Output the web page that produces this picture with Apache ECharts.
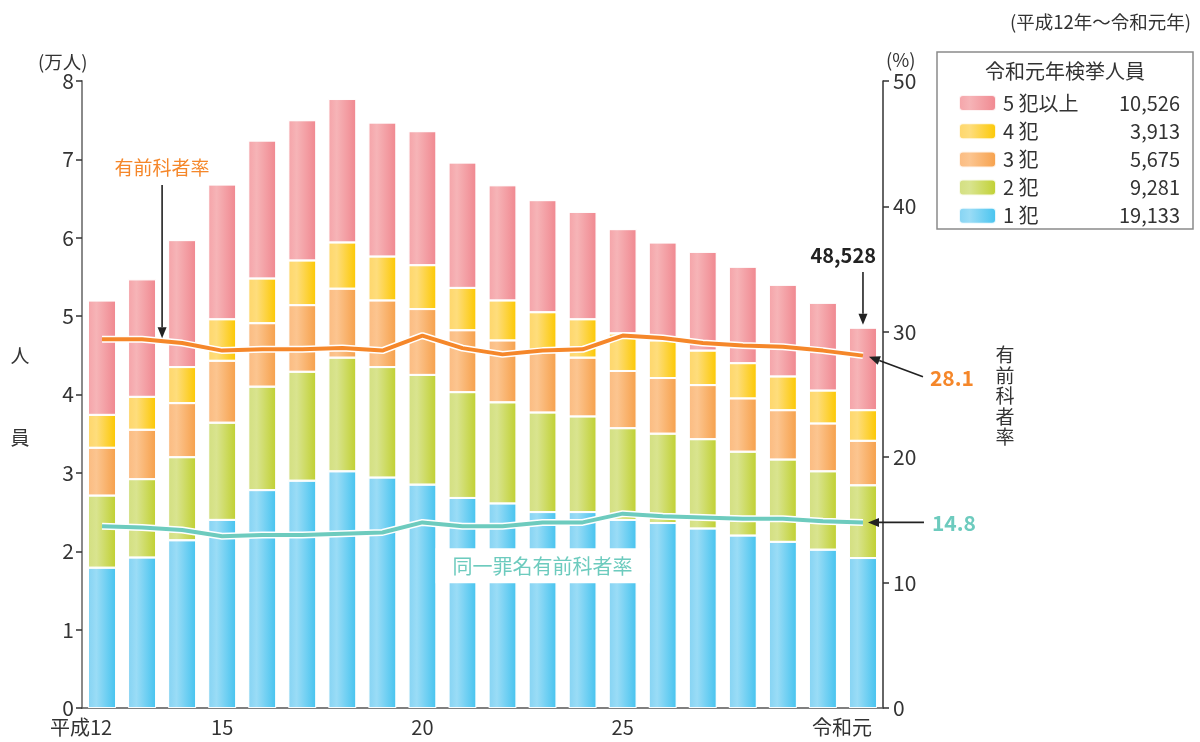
<!DOCTYPE html>
<html><head><meta charset="utf-8">
<script src="https://cdn.jsdelivr.net/npm/echarts@6/dist/echarts.min.js"></script>
<style>html,body{margin:0;padding:0;background:#fff}#c{width:1200px;height:742px}</style>
</head><body><div id="c"></div>
<script>
const categories = ['平成12','13','14','15','16','17','18','19','20','21','22','23','24','25','26','27','28','29','30','令和元'];
const shownTicks = [0,3,8,13,19];
const leftTicks = [0,1,2,3,4,5,6,7,8];
const seriesNames = ['1犯','2犯','3犯','4犯','5犯以上'];
const one   = [17900,19200,21400,24000,27800,29000,30200,29400,28500,26800,26100,25000,25000,24000,23600,22900,22000,21200,20200,19133];
const two   = [9200,10000,10600,12400,13200,13900,14500,14100,14000,13500,12900,12700,12200,11700,11400,11400,10700,10500,10000,9281];
const three = [6100,6300,6900,7900,8100,8500,8800,8500,8400,7900,7900,7700,7500,7300,7100,6900,6800,6300,6100,5675];
const four  = [4200,4200,4600,5300,5700,5700,5900,5600,5600,5400,5100,5100,4900,4800,4800,4400,4500,4300,4200,3913];
const fiveUp= [14600,15000,16200,17200,17600,17900,18300,17100,17100,16000,14700,14300,13700,13300,12500,12600,12300,11700,11200,10526];
const priorRate = [29.4,29.4,29.1,28.5,28.6,28.6,28.7,28.5,29.7,28.7,28.2,28.5,28.6,29.7,29.5,29.1,28.9,28.8,28.5,28.1];
const sameRate  = [14.5,14.4,14.2,13.7,13.8,13.8,13.9,14.0,14.8,14.5,14.5,14.8,14.8,15.5,15.3,15.2,15.1,15.1,14.9,14.8];

const FONT = '"Noto Sans CJK JP", "Noto Sans", sans-serif';
const G = (a,b,c) => new echarts.graphic.LinearGradient(0,0,1,0,[{offset:0,color:a},{offset:0.3,color:b},{offset:1,color:c}]);
const colors = [
  G('#84d3f3','#9adcf6','#45c3ef'),
  G('#d3df80','#d9e48f','#c0d030'),
  G('#fbbb80','#fcc590','#f6a04a'),
  G('#fed66a','#fedd7c','#fcc800'),
  G('#f5a3a8','#f6b4b7','#f0878f')
];
const values = [one,two,three,four,fiveUp];
const fmt = n => n.toLocaleString('en-US');
const r1 = {}; seriesNames.forEach((n,i)=>{ r1[n] = values[i][values[i].length-1]; });
const total = one.map((v,i)=>v+two[i]+three[i]+four[i]+fiveUp[i]);

const chart = echarts.init(document.getElementById('c'));
const barSeries = seriesNames.map((n,i)=>({
  name:n, type:'bar', stack:'t', barWidth:'70%', data:values[i],
  itemStyle:{color:colors[i], borderColor:'rgba(255,255,255,0.85)', borderWidth:1},
  emphasis:{disabled:true}, z:2
}));
function lineS(data,color,w,z){return {type:'line',yAxisIndex:1,data,symbol:'none',lineStyle:{color,width:w},z,emphasis:{disabled:true},silent:true};}

chart.setOption({
  animation:false,
  textStyle:{fontFamily:FONT},
  grid:{left:82,right:317,top:81,bottom:34},
  legend:{
    data:['5犯以上','4犯','3犯','2犯','1犯'],
    orient:'vertical', left:953, top:88, itemWidth:37, itemHeight:16, itemGap:8.2,
    selectedMode:false,
    formatter: n => `{n|${n.charAt(0)} ${n.slice(1)}}{v|${fmt(r1[n])}}`,
    textStyle:{fontFamily:FONT, color:'#333', lineHeight:20, rich:{
      n:{width:100, fontSize:20, lineHeight:20, color:'#333', fontFamily:FONT, padding:[0,0,0,2]},
      v:{width:77, align:'right', fontSize:20, lineHeight:20, color:'#333', fontFamily:FONT}
    }}
  },
  xAxis:{type:'category', data:categories,
    axisLine:{lineStyle:{color:'#555',width:1.5}}, axisTick:{show:false},
    axisLabel:{interval:(i)=>shownTicks.includes(i), margin:9, color:'#333', fontSize:20,
      formatter:(v,i)=> (i===0||i===19)? `{w|${v}}` : v,
      rich:{w:{fontSize:20,color:'#333',padding:[0,42,0,0],fontFamily:FONT}}}
  },
  yAxis:[
    {type:'value', min:0, max:80000, interval:10000, position:'left',
      axisLine:{show:true, lineStyle:{color:'#8a8a8a',width:2}},
      axisTick:{show:true, length:6, lineStyle:{color:'#333',width:1.5}},
      axisLabel:{formatter:v=>v/10000, color:'#333', fontSize:21, margin:8},
      splitLine:{show:false}},
    {type:'value', min:0, max:50, interval:10, position:'right',
      axisLine:{show:true, lineStyle:{color:'#333',width:1.5}},
      axisTick:{show:true, length:6, lineStyle:{color:'#333',width:1.5}},
      axisLabel:{color:'#333', fontSize:21, margin:10},
      splitLine:{show:false}}
  ],
  series:[
    ...barSeries,
    lineS(priorRate,'#ffffff',7,5), lineS(priorRate,'#f5872a',4,6),
    lineS(sameRate,'#ffffff',7,5), lineS(sameRate,'#6dcbbe',4,6)
  ]
});

function px(i,v,axis){ return chart.convertToPixel({xAxisIndex:0,yAxisIndex:axis}, [i,v]); }
function arrow(x1,y1,x2,y2){
  const a=Math.atan2(y2-y1,x2-x1), L=11, W=4.5;
  const bx=x2-L*Math.cos(a), by=y2-L*Math.sin(a);
  return [
    {type:'line',shape:{x1,y1,x2:bx,y2:by},style:{stroke:'#222',lineWidth:1.6},z:50},
    {type:'polygon',shape:{points:[[x2,y2],[bx-W*Math.sin(a),by+W*Math.cos(a)],[bx+W*Math.sin(a),by-W*Math.cos(a)]]},style:{fill:'#222'},z:50}
  ];
}
const last = categories.length-1;
const pTot = px(last,total[last],0);
const pPrior = px(last,priorRate[last],1);
const pSame = px(last,sameRate[last],1);
const pa = px(1,priorRate[1],1), pb = px(2,priorRate[2],1);
const midX=(pa[0]+pb[0])/2, midY=(pa[1]+pb[1])/2;
const gl = chart.convertToPixel({xAxisIndex:0,yAxisIndex:1},[10.5,11.3]);
const txt=(x,y,t,o)=>Object.assign({type:'text',x,y,z:60,style:Object.assign({text:t,fontFamily:FONT,fontSize:19,fill:'#333',align:'left',verticalAlign:'middle'},o||{})});
const g = [
  txt(1191,22,'(平成12年～令和元年)',{align:'right',fontSize:18.5}),
  txt(38,62,'(万人)',{fontSize:18.5}),
  txt(886,60,'(%)',{fontSize:18.5}),
  txt(20,356,'人',{fontSize:19,align:'center'}),
  txt(20,438,'員',{fontSize:19,align:'center'}),
  txt(1005,396,'有\n前\n科\n者\n率',{fontSize:19,align:'center',lineHeight:20.5}),
  {type:'rect',shape:{x:937,y:52,width:256,height:177},style:{fill:'none',stroke:'#8a8a8a',lineWidth:1.5},z:40},
  txt(1065,71,'令和元年検挙人員',{align:'center',fontSize:20}),
  txt(midX,168,'有前科者率',{align:'center',fill:'#f5872a',fontSize:19}),
  ...arrow(midX,185,midX,midY-3),
  txt(pTot[0]+13,255,fmt(total[last]),{align:'right',fontWeight:'bold',fontSize:20,fill:'#222'}),
  ...arrow(pTot[0],272,pTot[0],pTot[1]-3),
  ...arrow(pPrior[0]+60,pPrior[1]+21,pPrior[0]+6,pPrior[1]+1),
  txt(pPrior[0]+67,pPrior[1]+22,'28.1',{fontWeight:'bold',fontSize:21,fill:'#f5872a'}),
  ...arrow(pSame[0]+61,pSame[1],pSame[0]+5,pSame[1]),
  txt(pSame[0]+69,pSame[1]+1,'14.8',{fontWeight:'bold',fontSize:21,fill:'#6dcbbe'}),
  {type:'rect',shape:{x:gl[0]-107,y:gl[1]-18,width:214,height:35},style:{fill:'#fff'},z:55},
  txt(gl[0],gl[1],'同一罪名有前科者率',{align:'center',fill:'#6dcbbe',fontSize:20})
];
chart.setOption({graphic:g});
</script></body></html>
